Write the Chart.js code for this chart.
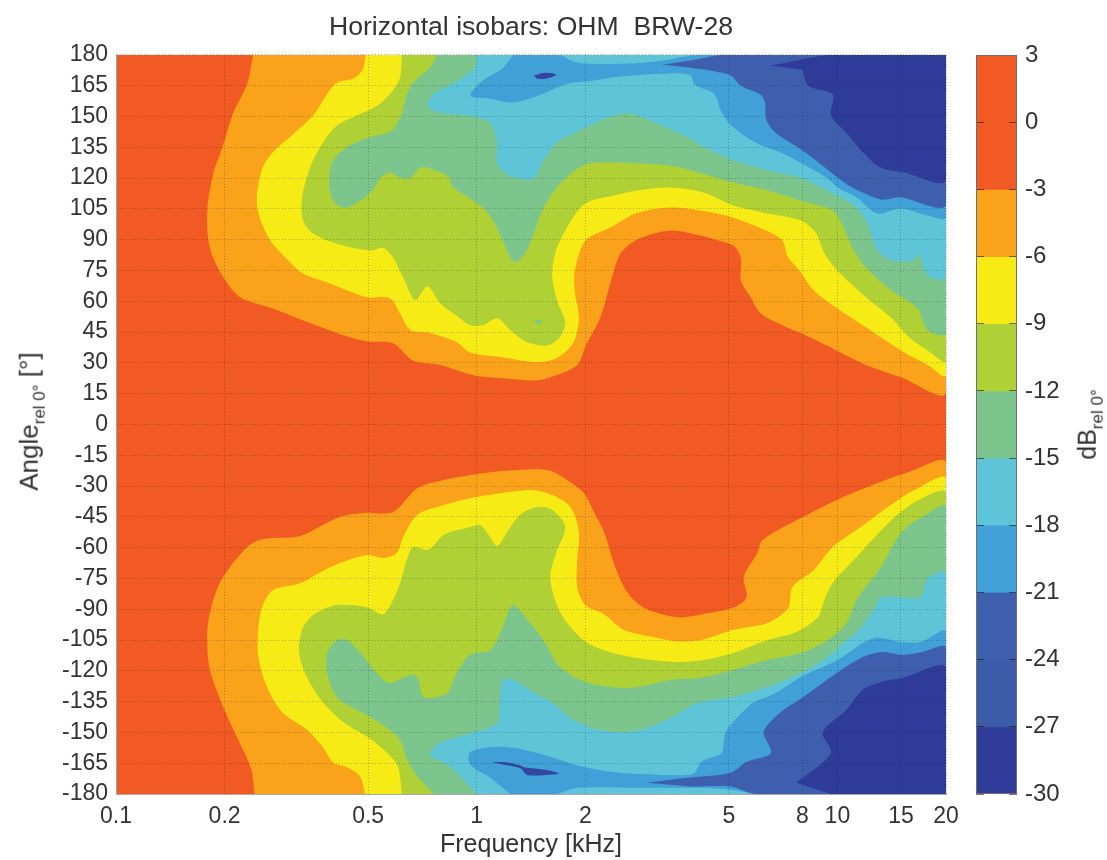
<!DOCTYPE html>
<html><head><meta charset="utf-8">
<style>
html,body{margin:0;padding:0;background:#fff;width:1107px;height:860px;overflow:hidden}
canvas{position:absolute;top:0}
.t{position:absolute;font-family:"Liberation Sans",Arial,sans-serif;font-size:26px;color:#333;white-space:nowrap;transform-origin:center center}
.t sub{font-size:17px;vertical-align:-7px;line-height:0}
#zt{font-size:25px}
</style>
<script src="https://cdn.jsdelivr.net/npm/chart.js@4"></script>
</head><body>
<canvas id="main" width="970" height="860" style="left:0"></canvas>
<canvas id="bar" width="147" height="860" style="left:960px"></canvas>
<div class="t" id="yt">Angle<sub>rel 0°</sub> [°]</div>
<div class="t" id="zt">dB<sub>rel 0°</sub></div>
<script>
const titleText = 'Horizontal isobars: OHM  BRW-28';
const xTitle = 'Frequency [kHz]';
const freqTicks = [0.1,0.2,0.5,1,2,5,8,10,15,20];
const angleTicks = [-180,-165,-150,-135,-120,-105,-90,-75,-60,-45,-30,-15,0,15,30,45,60,75,90,105,120,135,150,165,180];
const dbTicks = [3,0,-3,-6,-9,-12,-15,-18,-21,-24,-27,-30];
const dbLow  = [-3,-6,-9,-12,-15,-18,-21,-24,-27,-30];
const dbHigh = [3,-3,-6,-9,-12,-15,-18,-21,-24,-27];
const palette = ['#F15A22','#FAA21A','#F6EB14','#AFD136','#7CC68D','#5EC4D8','#41A0D8','#3E5FAD','#3C5BA9','#2F3B98'];

const fullF = [0.1,20,20,0.1];
const fullA = [180,180,-180,-180];

const m3TopF = [0.24,0.231,0.211,0.198,0.186,0.179,0.182,0.198,0.221,0.272,0.338,0.418,0.496,0.586,0.667,0.792,0.98,1.18,1.47,1.66,1.9,2.02,2.2,2.35,2.5,2.78,3.45,4.18,4.6,5.15,5.4,5.4,5.75,6.13,7.1,7.92,9.7,12,15,20,20];
const m3TopA = [180,166,151.5,136,122,104,86,72,62,56.5,50,44,40.5,39.5,31,29,24,22.5,21.5,24,29,39.5,52,69,83,90,94.5,92,90,87,81,70,62,54,48,44.5,37,29,23,15.7,180];
const m3BotF = [0.242,0.237,0.216,0.196,0.182,0.179,0.185,0.197,0.231,0.255,0.324,0.418,0.496,0.586,0.685,0.81,0.96,1.18,1.57,1.78,1.98,2.12,2.26,2.42,2.62,2.87,3.28,3.7,4.18,5.15,5.6,5.5,6.0,6.2,7.92,10.2,12.9,15.8,20,20];
const m3BotA = [-180,-168,-152,-135.5,-119.4,-101.4,-87,-75,-59.7,-55.8,-54.3,-45,-43,-42.7,-31,-27,-24.7,-22.7,-22.2,-27,-33.4,-43,-52.8,-69.3,-82,-88.7,-92.6,-94,-92.6,-89.2,-84,-74.3,-62.6,-56.3,-45.6,-35.9,-28.6,-23.2,-18.8,-180];

const m6TopF = [0.493,0.482,0.455,0.41,0.385,0.352,0.31,0.272,0.255,0.246,0.248,0.267,0.3,0.33,0.392,0.496,0.575,0.613,0.654,0.743,0.88,0.96,1.18,1.47,1.66,1.85,1.92,1.87,1.87,2.0,2.35,2.78,3.45,4.25,5.15,6.97,7.3,7.85,8.6,10,12,15,17.8,20,20];
const m6TopA = [180,172.5,168.5,166.5,161,150.5,141.5,132.5,125,112.5,103,90,80,73.5,68.7,62,61.5,54,46,44.5,40,35,32.7,30.3,32.2,39.5,52,65,75,89.5,96,103,105.7,104,100.7,90.5,81.4,75,65.3,56.5,47.3,36,29,24,180];
const m6BotF = [0.49,0.475,0.437,0.4,0.375,0.338,0.29,0.262,0.248,0.248,0.254,0.272,0.324,0.392,0.496,0.55,0.6,0.625,0.685,0.81,0.96,1.18,1.44,1.62,1.82,1.92,1.9,1.9,2.0,2.26,2.55,3.1,3.6,4.25,5.15,6.4,7.3,7.5,8.6,9.7,11.6,13.8,16.3,20,20];
const m6BotA = [-180,-171.5,-167,-164.7,-157.4,-148.6,-140.4,-127.7,-113,-100,-89,-80.7,-77.3,-69.5,-63.6,-65,-62.6,-54.8,-44,-39.2,-35.9,-33.4,-32,-34.4,-40.2,-52.4,-66,-79.2,-88,-92.6,-100,-103.7,-105.7,-104.7,-100,-96.7,-89.4,-79.2,-70.9,-59.7,-50,-40.2,-32,-26.6,-180];

const m9TopF = [0.62,0.613,0.575,0.53,0.465,0.41,0.375,0.345,0.328,0.33,0.352,0.41,0.506,0.55,0.586,0.625,0.676,0.73,0.792,0.88,0.96,1.04,1.14,1.24,1.38,1.57,1.7,1.76,1.68,1.62,1.65,1.78,2.0,2.4,2.78,3.45,4.25,5.15,6.4,7.92,8.7,9.2,10,12,14.1,15.8,17.8,20,20];
const m9TopA = [180,169,161,155.3,150.5,145.6,137.3,125,110.5,99.4,93,88,84.7,86,81.4,71.6,60.5,67.3,59,53,48.3,48.3,51.7,45.9,40,38.5,42.5,49.8,59,71.6,83.3,96,107.6,111.5,114,115.4,113,106.7,102.8,99.4,93.5,83.3,75,62,52,42.5,36,31,180];
const m9BotF = [0.62,0.605,0.565,0.496,0.43,0.375,0.338,0.322,0.328,0.352,0.41,0.496,0.55,0.586,0.613,0.64,0.667,0.735,0.81,0.96,1.02,1.07,1.14,1.21,1.32,1.47,1.62,1.76,1.66,1.6,1.66,1.78,2.03,2.5,3.45,4.25,5.15,6.4,7.6,8.8,9.2,9.7,11.3,14.1,16.8,20,20];
const m9BotA = [-180,-166.7,-160,-152,-145.4,-135.4,-123,-111.3,-100,-92.8,-88,-89,-92.4,-85.6,-77.3,-66,-59.7,-61,-53.8,-50,-49,-52.9,-59.2,-52.9,-44,-40.2,-41.7,-50,-62.6,-74.3,-87,-96.7,-106.4,-112.2,-115.6,-114.7,-111.3,-105,-101.5,-94.2,-85.5,-77.2,-64.6,-46.6,-36.8,-33.4,-180];

const m12TopF = [0.775,0.743,0.667,0.64,0.62,0.58,0.506,0.446,0.4,0.39,0.4,0.43,0.475,0.515,0.54,0.575,0.613,0.654,0.697,0.728,0.83,0.86,0.96,1.04,1.11,1.18,1.27,1.36,1.44,1.52,1.66,1.82,2.03,2.5,3.45,4.25,5.15,6.4,7.92,9.7,10.4,11,12,14.1,16.6,17.8,20,20];
const m12TopA = [180,174,166.5,161,151.5,143,140,136,128.7,119,109,105.5,109,114,120,122.7,120,120,125,125,121,115.5,110,105.7,99.4,89.6,79,83.3,93,104.2,115,122,127,127.6,126,122,117.8,114,109,104.2,96,86,76.5,65.3,57,45.8,44.4,180];
const m12BotF = [0.76,0.685,0.64,0.613,0.54,0.465,0.41,0.385,0.385,0.41,0.437,0.485,0.54,0.575,0.654,0.685,0.71,0.76,0.83,0.88,0.96,1.09,1.18,1.26,1.38,1.53,1.7,2.03,2.67,3.45,4.18,5.15,6.4,7.92,9.4,10.6,11.3,13.2,15,17,20,20];
const m12BotA = [-180,-171.5,-163,-153.6,-145.4,-139,-133,-121,-111.3,-105,-105,-113,-123,-126,-122,-123,-132.7,-133,-130.7,-121,-112,-110,-98.6,-88,-95,-105,-118,-125.8,-128.3,-124.4,-123.4,-119.5,-114.7,-111.3,-105,-96.7,-85.5,-69.4,-52.9,-45.6,-40.2,-180];
const m12IslandF = [1.44,1.48,1.53,1.48];
const m12IslandA = [50,51,50,49];

const m15TopF = [1.0,0.99,0.88,0.76,0.73,0.79,0.94,1.09,1.14,1.14,1.24,1.43,1.53,1.66,2.0,2.4,2.67,3.17,3.85,4.18,5.15,6.4,7.92,9.7,10.9,12,12.9,14.1,16.3,16.8,17.8,20,20];
const m15TopA = [180,174,167,161,155,152,150.5,147,137,127,121,119.7,128.5,137,144.5,150.5,151.5,146.5,140,136,128.7,123.7,120,112.5,107.7,99.4,84.8,80,80,83.3,72.6,71.6,180];
const m15BotF = [1.0,0.844,0.743,0.792,0.94,1.14,1.16,1.18,1.26,1.44,1.62,1.82,2.15,2.72,3.45,4.1,5.15,6.4,7.92,9.7,10.6,11.3,12.6,13.2,14.6,17,17.8,20,20];
const m15BotA = [-180,-166.7,-160.8,-155,-151,-145.4,-134,-124.4,-124.4,-130.7,-135.6,-143,-148.6,-149.6,-143,-135.6,-132.7,-127.8,-121,-111.3,-105,-101.5,-90.3,-84.4,-84,-84,-74.8,-72.4,-180];

const m18TopF = [1.26,1.7,1.82,2.0,2.67,3.3,4.1,20,20,17.8,15,12.9,11.3,10.1,9.4,8.0,7.05,6.0,5.15,4.8,4.55,4.18,4.0,3.92,3.45,2.5,2.0,1.78,1.47,1.26,1.09,0.96,1.04,1.18];
const m18TopA = [180,180,177.3,175.8,175.8,177.3,180,180,100.9,101.8,105.2,102.8,110.6,115,119.8,127,132,136.8,144.6,151.4,161,164,166,170,171,169.5,167,166,160,156.8,158.7,160.2,167.5,173.3];
const m18BotF = [1.24,1.66,1.9,2.78,4.18,5.15,6,20,20,17,15,12.6,10,7.92,6.75,5.85,5.3,4.9,4.8,4.7,4.2,4.05,3.92,3.17,2.5,2.0,1.47,1.18,0.96,0.96,1.09];
const m18BotA = [-180,-180,-177,-177,-177,-178,-180,-180,-101,-106,-106,-104,-114.7,-123,-130.7,-135.6,-142.4,-150,-159.4,-160.8,-164.3,-169,-170.6,-170.6,-169.7,-167,-160,-157,-159.4,-165.8,-172];

const m21TopF = [3.27,3.92,4.85,20,20,15,13.2,11,10,9.1,7.92,6.75,6.35,6.3,6.13,5.4,5.06,4.45,3.92];
const m21TopA = [175.3,177.3,180,180,107,110.6,109.6,115.4,120.3,126,134,142,148.5,156.8,160.6,165,170,172.4,173.8];
const m21BotF = [2.95,3.45,3.92,5.06,5.6,6.54,6.25,6.97,8.05,9.6,11.8,13.4,15.2,17.2,20,20,5.95,5.06,3.92];
const m21BotA = [-174.5,-173,-172,-169.7,-164.3,-160,-149.7,-140,-132.7,-123,-113.2,-110.8,-112.2,-110.8,-108.8,-180,-180,-176.4,-176.4];

const m27TopF = [6.54,7.92,9.59,20,20,15.3,13.2,12,10.6,9.6,9.7,8.3,8];
const m27TopA = [174.8,177.7,180,180,118.8,122.7,125,131,142,150.5,160.7,165,172.8];
const m27BotF = [7.7,9.6,9.1,10.6,11.8,13.4,15.2,20,20,9.6];
const m27BotA = [-174.5,-160,-150,-139,-129,-125.2,-123.4,-118.5,-180,-180];
const islandTopF = [1.44,1.55,1.66,1.55,1.47];
const islandTopA = [170,171.3,170.4,168.4,168.4];
const islandBotF = [1.1,1.2,1.32,1.35,1.56,1.69,1.55,1.38,1.32,1.18];
const islandBotA = [-164.5,-164.5,-166,-167,-168.3,-170,-170.7,-170.7,-167.4,-165.6];

function poly(f,a,color){
  // a vertex on the plot's right corners is repeated so that the curve stays square there
  const pts=[];
  f.forEach((v,i)=>{
    pts.push({x:v,y:a[i]});
    if(v===20 && Math.abs(a[i])===180) pts.push({x:v,y:a[i]});
  });
  return {data:pts,showLine:true,fill:'shape',backgroundColor:color,
          borderWidth:0,borderColor:color,pointRadius:0,pointHoverRadius:0,tension:0.3};
}
const C = {r:palette[0],o:palette[1],y:palette[2],g:palette[3],t:palette[4],l:palette[5],b:palette[6],m:palette[7],d:palette[9]};
// first listed is painted last (on top)
const layers = [
  poly(islandTopF,islandTopA,'#33469F'),poly(islandBotF,islandBotA,'#33469F'),
  poly(m27TopF,m27TopA,C.d),poly(m27BotF,m27BotA,C.d),
  poly(m21TopF,m21TopA,C.m),poly(m21BotF,m21BotA,C.m),
  poly(m18TopF,m18TopA,C.b),poly(m18BotF,m18BotA,C.b),
  poly(m15TopF,m15TopA,C.l),poly(m15BotF,m15BotA,C.l),
  poly(m12IslandF,m12IslandA,C.t),
  poly(m12TopF,m12TopA,C.t),poly(m12BotF,m12BotA,C.t),
  poly(m9TopF,m9TopA,C.g),poly(m9BotF,m9BotA,C.g),
  poly(m6TopF,m6TopA,C.y),poly(m6BotF,m6BotA,C.y),
  poly(m3TopF,m3TopA,C.o),poly(m3BotF,m3BotA,C.o),
  poly(fullF,fullA,C.r)
];
const FONT = '"Liberation Sans", Arial, sans-serif';
const TXT = '#333333';
const gridCfg = {z:1,color:'rgba(40,30,20,0.3)',lineWidth:1,drawTicks:false};
new Chart(document.getElementById('main'),{
  type:'scatter',
  data:{datasets:layers},
  options:{
    responsive:false,animation:false,events:[],
    layout:{autoPadding:false,padding:{right:24,left:0,top:0,bottom:0}},
    plugins:{legend:{display:false},tooltip:{enabled:false},
      title:{display:true,fullSize:false,text:titleText,color:TXT,font:{family:FONT,size:26.6,weight:'normal',lineHeight:1.2},padding:{top:12,bottom:11}}},
    scales:{
      x:{type:'logarithmic',min:0.1,max:20,
        grid:{...gridCfg},
        border:{display:true,z:2,color:'#a8a8a8',width:1,dash:[1,2]},
        afterBuildTicks(s){s.ticks=freqTicks.map(v=>({value:v}));},
        afterFit(s){s.height=66;},
        ticks:{autoSkip:false,maxRotation:0,minRotation:0,padding:9,color:TXT,font:{family:FONT,size:23},callback:v=>String(v)},
        title:{display:true,text:xTitle,color:TXT,font:{family:FONT,size:25},padding:{top:0,bottom:0}}
      },
      y:{type:'linear',min:-180,max:180,
        grid:{...gridCfg},
        border:{display:true,z:2,color:'#a8a8a8',width:1,dash:[1,2]},
        afterBuildTicks(s){s.ticks=angleTicks.map(v=>({value:v}));},
        afterFit(s){s.width=116;},
        ticks:{autoSkip:false,padding:8,color:TXT,font:{family:FONT,size:23}}
      }
    }
  }
});
const frame = {id:'frame',afterDraw(c){const a=c.chartArea,x=c.ctx;x.save();x.strokeStyle='#6f6f6f';x.lineWidth=1;
  x.strokeRect(a.left+.5,a.top+.5,a.right-a.left-1,a.bottom-a.top-1);x.restore();}};
new Chart(document.getElementById('bar'),{
  type:'bar',
  plugins:[frame],
  data:{labels:['dB'],datasets:dbLow.map((lo,i)=>({data:[[lo,dbHigh[i]]],backgroundColor:palette[i],borderWidth:0,barPercentage:1,categoryPercentage:1,grouped:false}))},
  options:{
    responsive:false,animation:false,events:[],
    layout:{autoPadding:false,padding:{left:16,right:0,top:55,bottom:66}},
    plugins:{legend:{display:false},tooltip:{enabled:false}},
    scales:{
      x:{display:false,stacked:false},
      y:{position:'right',min:-30,max:3,
        afterBuildTicks(s){s.ticks=dbTicks.map(v=>({value:v}));},
        afterFit(s){s.width=90;},
        grid:{z:1,color:'rgba(30,20,20,0.6)',drawTicks:false},
        border:{display:false,dash:[8,25]},
        ticks:{autoSkip:false,padding:8,color:TXT,font:{family:FONT,size:24}}
      }
    }
  }
});
function place(id,cx,cy){
  const el=document.getElementById(id);
  const w=el.offsetWidth,h=el.offsetHeight;
  el.style.left=(cx-w/2)+'px';el.style.top=(cy-h/2)+'px';
  el.style.transform='rotate(-90deg)';
}
place('yt',29,421);
place('zt',1087,424);
</script>
</body></html>
